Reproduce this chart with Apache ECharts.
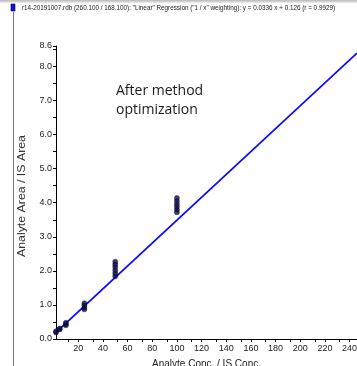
<!DOCTYPE html>
<html>
<head>
<meta charset="utf-8">
<script src="https://cdn.jsdelivr.net/npm/echarts@6/dist/echarts.min.js"></script>
<style>
  html, body { margin: 0; padding: 0; background: #fff; }
  #chart { width: 357px; height: 366px; }
</style>
</head>
<body>
<div id="chart"></div>
<script>
// Calibration standards: nominal concentration and measured area ratios
const concLevels = [2, 2, 5, 5, 10, 10, 10, 25, 25, 25, 25, 50, 50, 50, 50, 50, 50, 100, 100, 100, 100, 100, 100];
const areaRatios = [0.19, 0.23, 0.28, 0.31, 0.40, 0.44, 0.48, 0.87, 0.92, 0.98, 1.05, 1.84, 1.93, 2.02, 2.11, 2.19, 2.27, 3.72, 3.80, 3.88, 3.96, 4.05, 4.14];

// Fitted regression ("1 / x" weighting)
const slope = 0.0336;
const intercept = 0.126;

const xMin = 2, xMax = 246;
const yMin = 0, yMax = 8.6;
const xTickValues = [20, 40, 60, 80, 100, 120, 140, 160, 180, 200, 220, 240];

const titleText = 'r14-20191007.rdb (260.100 / 168.100): "Linear" Regression ("1 / x" weighting): y = 0.0336 x + 0.126 (r = 0.9929)';
const noteText = 'After method\noptimization';
const xName = 'Analyte Conc. / IS Conc.';
const yName = 'Analyte Area / IS Area';

const sans = '"Liberation Sans", Arial, sans-serif';

const points = concLevels.map((c, i) => [c, areaRatios[i]]);
const fitLine = [[xMin, intercept + slope * xMin], [xMax, intercept + slope * xMax]];

const chart = echarts.init(document.getElementById('chart'), null, { renderer: 'canvas' });
chart.setOption({
  animation: false,
  backgroundColor: '#ffffff',
  grid: { left: 56, top: 46, right: 0, bottom: 27, containLabel: false, outerBoundsMode: 'none' },
  graphic: [
    { type: 'rect', shape: { x: 0, y: 0, width: 357, height: 3 },
      style: { fill: new echarts.graphic.LinearGradient(0, 0, 0, 1, [{ offset: 0, color: '#b8b8b8' }, { offset: 1, color: '#eeeeee' }]) } },
    { type: 'line', shape: { x1: 13.5, y1: 12, x2: 13.5, y2: 366 }, style: { stroke: '#777', lineWidth: 1 } },
    { type: 'rect', shape: { x: 11, y: 4, width: 4, height: 7 }, style: { fill: '#1010d8', stroke: '#000050', lineWidth: 0.6 } },
    { type: 'text', x: 22, y: 4, scaleX: 0.79,
      style: { text: titleText, font: '8px ' + sans, fill: '#222', verticalAlign: 'top' } },
    { type: 'text', left: 116, top: 82,
      style: { text: noteText, font: '14px "Open Sans", "Noto Sans", sans-serif', fill: '#1a1a1a', lineHeight: 19 } },
    { type: 'text', x: 22, y: 196, rotation: Math.PI / 2, scaleX: 1.12,
      style: { text: yName, font: '11px ' + sans, fill: '#333', align: 'center', verticalAlign: 'middle' } }
  ],
  xAxis: {
    type: 'value', min: xMin, max: xMax,
    interval: 20,
    axisLine: { onZero: false, lineStyle: { color: '#000', width: 1 } },
    axisTick: { show: true, length: 3, lineStyle: { color: '#000' }, customValues: xTickValues },
    minorTick: { show: true, splitNumber: 2, length: 3, lineStyle: { color: '#000' } },
    axisLabel: { color: '#222', fontSize: 9, fontFamily: sans, margin: 5, customValues: xTickValues },
    splitLine: { show: false },
    name: xName, nameLocation: 'middle', nameGap: 20,
    nameTextStyle: { color: '#222', fontSize: 10, fontFamily: sans }
  },
  yAxis: {
    type: 'value', min: yMin, max: yMax, interval: 1,
    axisLine: { onZero: false, lineStyle: { color: '#000', width: 1 } },
    axisTick: { show: true, length: 3, lineStyle: { color: '#000' } },
    minorTick: { show: true, splitNumber: 2, length: 3, lineStyle: { color: '#000' } },
    axisLabel: { color: '#222', fontSize: 9, fontFamily: sans, margin: 4,
      showMaxLabel: true, formatter: v => v.toFixed(1) },
    splitLine: { show: false }
  },
  series: [
    {
      type: 'line', data: fitLine, symbol: 'none', silent: true,
      lineStyle: { color: '#0a0aff', width: 1.8 }, z: 2
    },
    {
      type: 'scatter', data: points, symbol: 'circle', symbolSize: 5,
      itemStyle: { color: '#10104a', borderColor: '#000022', borderWidth: 0.5 }, z: 3
    }
  ]
});
</script>
</body>
</html>
